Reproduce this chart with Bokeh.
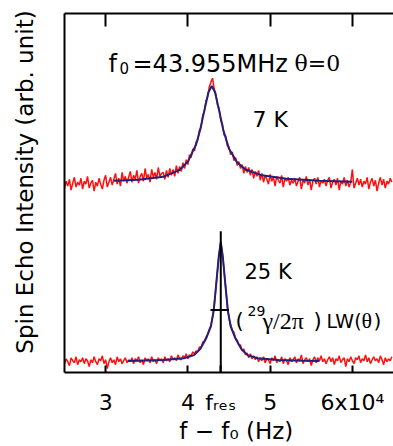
import numpy as np
from bokeh.plotting import figure
from bokeh.models import Label, LinearAxis, FixedTicker, Range1d, CustomLabelingPolicy
from bokeh.embed import file_html
from bokeh.resources import INLINE

# ---------------- data ----------------
# frequency axis f - f0 (Hz), sampled every 200 Hz
freq = np.arange(25000, 64801, 200)

# 7 K spectrum (drawn with an upward offset), arbitrary units
echo_7K = [188, 195, 190, 197, 186, 193, 199, 189, 194, 191, 198, 187, 195, 192, 200, 188, 193, 196, 185, 194,
           190, 198, 192, 187, 196, 201, 189, 194, 199, 191, 197, 203, 192, 198, 190, 204, 195, 200, 193, 199,
           205, 194, 201, 197, 206, 193, 200, 203, 195, 208, 198, 202, 194, 207, 199, 204, 197, 209, 200, 203,
           204, 197, 206, 199, 208, 201, 207, 200, 211, 203, 210, 205, 214, 208, 217, 212, 222, 219, 228, 226,
           235, 237, 247, 250, 262, 266, 277, 281, 291, 296, 300, 289, 284, 273, 269, 257, 253, 242, 241, 231,
           230, 222, 225, 216, 219, 211, 215, 208, 212, 203, 210, 204, 209, 201, 207, 198, 205, 200, 206, 196,
           203, 194, 201, 197, 192, 202, 195, 199, 190, 200, 196, 193, 201, 189, 198, 195, 199, 191, 196, 193,
           198, 190, 195, 199, 187, 196, 193, 200, 191, 197, 186, 195, 198, 192, 199, 189, 196, 193, 197, 190,
           196, 199, 188, 194, 197, 191, 198, 186, 195, 192, 199, 190, 196, 189, 194, 207, 188, 193, 198, 191,
           197, 189, 195, 192, 199, 187, 194, 198, 190, 196, 185, 193, 199, 191, 197, 188, 195, 192, 198, 194]

# 25 K spectrum
echo_25K = [9, 14, 11, 7, 15, 12, 10, 16, 8, 13, 11, 15, 9, 14, 12, 6, 13, 10, 16, 11,
            8, 14, 12, 17, 9, 13, 4, 11, 15, 10, 13, 8, 16, 11, 14, 9, 12, 15, 10, 13,
            11, 15, 9, 14, 12, 16, 10, 13, 8, 15, 12, 14, 10, 16, 11, 13, 9, 15, 12, 14,
            10, 16, 12, 14, 11, 17, 13, 15, 12, 18, 14, 13, 17, 15, 19, 14, 18, 17, 21, 19,
            22, 21, 26, 25, 31, 32, 36, 39, 44, 48, 56, 68, 86, 104, 121, 133, 121, 104, 86, 68,
            55, 49, 43, 41, 35, 33, 28, 28, 22, 24, 18, 20, 15, 19, 14, 17, 13, 16, 11, 15,
            12, 16, 10, 14, 13, 9, 15, 12, 17, 10, 13, 11, 16, 9, 14, 12, 8, 15, 11, 13,
            16, 10, 14, 12, 18, 9, 13, 15, 11, 14, 7, 13, 16, 10, 15, 12, 17, 11, 14, 9,
            13, 16, 11, 15, 8, 14, 12, 17, 10, 13, 15, 6, 14, 11, 16, 12, 9, 15, 13, 17,
            10, 14, 12, 18, 11, 15, 9, 13, 16, 12, 14, 10, 17, 13, 8, 15, 11, 14, 12, 16]

# fitted curves
fit7_f = [31000, 34000, 37000, 39000, 40000, 41000, 41500, 42000, 42500, 42900,
          43300, 43800, 44300, 45000, 46000, 47000, 49000, 52000, 56000, 60000]
fit7_y = [195.5, 196.5, 199.5, 206.5, 215, 232.5, 247.5, 267, 285.8, 292,
          285.8, 267, 247.5, 228, 214, 207, 201, 197.5, 195.5, 194.5]

fit25_f = [32700, 34000, 37000, 39500, 40750, 41500, 42200, 42800, 43150, 43500,
           43750, 44000, 44250, 44500, 44850, 45200, 45800, 46500, 47250, 48500,
           51000, 54000, 56000]
fit25_y = [11.6, 12, 12.8, 14.5, 17.7, 24, 34.3, 47, 63.7, 95,
           118, 133, 118, 95, 63.7, 47, 34.3, 24, 17.7, 14.5,
           12.8, 12, 11.6]

# resonance marker and line-width bar
f_res = 44000
f_res_top = 144
lw_bar_f = [42750, 44980]
lw_bar_y = [63.7, 63.7]

tick_values = [30000, 40000, 44000, 50000, 60000]
tick_labels = ["3", "4", "f\u1d63\u2091\u209b", "5", "6x10\u2074"]

# ---------------- figure ----------------
p = figure(width=393, height=446, x_range=Range1d(25000, 65000), y_range=Range1d(0, 366),
           output_backend="svg", toolbar_location=None,
           x_axis_location=None, y_axis_location=None,
           min_border_left=64, min_border_right=0, min_border_top=13, min_border_bottom=67)
p.outline_line_color = None
p.background_fill_color = "white"
p.border_fill_color = "white"
p.xgrid.grid_line_color = None
p.ygrid.grid_line_color = None

SANS = "DejaVu Sans"
SERIF = "Liberation Serif"

bottom = LinearAxis(ticker=FixedTicker(ticks=tick_values),
                    major_label_overrides=dict(zip(tick_values, tick_labels)),
                    major_tick_in=7, major_tick_out=0, minor_tick_line_color=None,
                    axis_line_width=2, major_tick_line_width=2,
                    major_label_text_font=SANS, major_label_text_font_size="22px",
                    major_label_text_color="black", major_label_standoff=17,
                    axis_label="\u00a0\u00a0f \u2212 f\u2080 (Hz)",
                    axis_label_text_font=SANS, axis_label_text_font_size="23px",
                    axis_label_text_font_style="normal", axis_label_text_color="black",
                    axis_label_standoff=0)
p.add_layout(bottom, "below")

hide_all = CustomLabelingPolicy(code="""
for (let i = 0; i < indices.size; i++) { indices.unset(i) }
return indices
""")
top = LinearAxis(ticker=FixedTicker(ticks=tick_values[:2] + tick_values[3:]),
                 major_tick_in=13, major_tick_out=0, minor_tick_line_color=None,
                 axis_line_width=2, major_tick_line_width=2,
                 major_label_policy=hide_all,
                 major_label_text_font_size="0px", major_label_standoff=0)
p.add_layout(top, "above")

left = LinearAxis(ticker=FixedTicker(ticks=[]), major_tick_line_color=None,
                  minor_tick_line_color=None, axis_line_width=2,
                  major_label_text_font_size="0px", major_label_standoff=0,
                  axis_label="\u00a0\u00a0\u00a0Spin Echo Intensity (arb. unit)",
                  axis_label_text_font=SANS, axis_label_text_font_size="23px",
                  axis_label_text_font_style="normal", axis_label_text_color="black",
                  axis_label_standoff=27)
p.add_layout(left, "left")

# data
p.line(freq, echo_7K, line_color="#ff1010", line_width=1.5)
p.line(freq, echo_25K, line_color="#ff1010", line_width=1.5)
p.line(fit7_f, fit7_y, line_color="#24207a", line_width=2)
p.line(fit25_f, fit25_y, line_color="#24207a", line_width=2)
p.segment(x0=[f_res], y0=[0], x1=[f_res], y1=[f_res_top], line_color="black", line_width=2)
p.line(lw_bar_f, lw_bar_y, line_color="black", line_width=2)


def X(px):
    return 25000 + (px - 64) * 40000 / 329


def Y(py):
    return 379 - py


def txt(s, px, py, size, font=SANS):
    p.add_layout(Label(x=X(px), y=Y(py), text=s, text_font=font,
                       text_font_size=f"{size}px", text_color="black",
                       text_baseline="alphabetic", text_align="left"))


# title
txt("f", 108, 64, 24)
txt("0", 119, 69, 15)
txt("=43.955MHz", 132, 64, 24)
txt("θ=0", 294, 64, 22, "DejaVu Serif")

txt("7 K", 252, 121, 22)
txt("25 K", 244, 277, 21)

txt("(", 235, 326, 21)
txt("29", 247, 316, 14)
txt("γ/2π", 262, 326, 24, SERIF)
txt(")", 313, 326, 21)
txt("LW(", 326, 326, 19)
txt("θ", 361, 326, 22, SERIF)
txt(")", 373, 326, 20)

open("out.html", "w").write(file_html(p, INLINE))
